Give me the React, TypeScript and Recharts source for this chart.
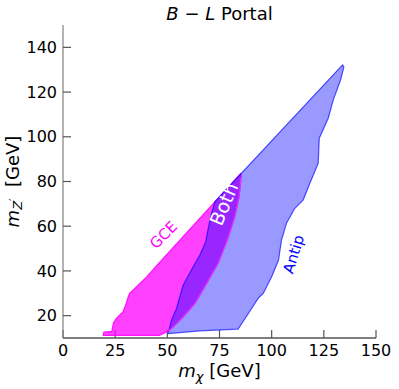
import React from 'react';
import { ComposedChart, Scatter, XAxis, YAxis, ReferenceDot } from 'recharts';

// GCE region outline (m_chi, m_Z')
const gceX = [19.2, 19.6, 23.4, 24.2, 25.8, 28.8, 30.2, 31.0, 32.0, 35.3, 40.0, 45.0, 85.2, 85.3, 84.4, 82.3, 78.7, 74.3, 68.8, 63.2, 57.6, 52.8, 50.4, 46.4];
const gceY = [11.2, 12.6, 13.0, 16.8, 19.0, 21.8, 25.2, 27.7, 30.1, 33.0, 37.2, 42.5, 83.6, 82.0, 73.2, 64.2, 53.8, 43.4, 34.4, 25.5, 19.5, 15.0, 13.0, 11.2];

// Antiproton region outline
const antipX = [50.4, 52.0, 54.4, 57.6, 62.4, 65.6, 68.4, 69.6, 71.2, 72.8, 134.0, 134.6, 133.0, 129.5, 127.1, 122.8, 122.3, 118.3, 115.1, 111.1, 107.1, 104.7, 103.3, 100.0, 96.0, 93.5, 90.4, 83.9, 65.6];
const antipY = [12.0, 18.0, 23.2, 33.7, 41.9, 47.1, 53.0, 59.0, 65.7, 71.0, 132.2, 131.2, 125.4, 116.4, 108.3, 99.3, 88.1, 79.2, 71.7, 68.0, 61.3, 53.8, 44.9, 37.4, 30.0, 27.7, 23.2, 14.0, 13.2];

const xTicks = [0, 25, 50, 75, 100, 125, 150];
const yTicks = [20, 40, 60, 80, 100, 120, 140];

const regionLabels = ['GCE', 'Both', 'Antip'];
const regionLabelX = [48.2, 77.0, 110.6];
const regionLabelY = [56.0, 70.0, 47.5];

const gceData = gceX.map((x, i) => ({ x, y: gceY[i] }));
const antipData = antipX.map((x, i) => ({ x, y: antipY[i] }));
const gceEdgeData = gceData.slice(13, 23);

const FONT = '"DejaVu Sans", sans-serif';

const polygon = (fill: string, fillOpacity: number, stroke: string, strokeOpacity: number, closed: boolean) => (props: any) => {
  const pts = props.points || [];
  if (!pts.length) return <g />;
  const d = pts.map((p: any, i: number) => `${i ? 'L' : 'M'}${p.x},${p.y}`).join('') + (closed ? 'Z' : '');
  return (
    <path
      d={d}
      fill={closed ? fill : 'none'}
      fillOpacity={fillOpacity}
      stroke={stroke}
      strokeOpacity={strokeOpacity}
      strokeWidth={1.2}
      strokeLinejoin="round"
    />
  );
};

const labelStyles = [
  { color: '#ff00ff', size: 15, angle: -45 },
  { color: '#ffffff', size: 19, angle: -67 },
  { color: '#0000ff', size: 15, angle: -73 },
];

const noTick = () => <g />;

export default function App() {
  return (
    <div style={{ position: 'absolute', left: 0, top: 0, width: 399, height: 389, background: '#fff' }}>
      <ComposedChart width={399} height={389} margin={{ top: 25, right: 23, bottom: 21, left: 23 }}>
        <XAxis
          xAxisId={0}
          dataKey="x"
          type="number"
          domain={[0, 150]}
          ticks={xTicks}
          allowDataOverflow
          height={30}
          tickSize={-8}
          tickMargin={15}
          axisLine={{ stroke: '#000', strokeWidth: 1.2 }}
          tickLine={{ stroke: '#555', strokeWidth: 1.2 }}
          tick={{ fontSize: 16, fill: '#000', fontFamily: FONT }}
        />
        <XAxis
          xAxisId="top"
          orientation="top"
          dataKey="x"
          type="number"
          domain={[0, 150]}
          ticks={xTicks}
          allowDataOverflow
          height={0}
          tickSize={-8}
          axisLine={{ stroke: '#808080', strokeWidth: 1.2 }}
          tickLine={{ stroke: '#555', strokeWidth: 1.2 }}
          tick={noTick}
        />
        <YAxis
          yAxisId={0}
          dataKey="y"
          type="number"
          domain={[10, 150]}
          ticks={yTicks}
          allowDataOverflow
          width={40}
          tickSize={-8}
          tickMargin={14}
          axisLine={{ stroke: '#808080', strokeWidth: 1.2 }}
          tickLine={{ stroke: '#555', strokeWidth: 1.2 }}
          tick={{ fontSize: 16, fill: '#000', fontFamily: FONT }}
        />
        <YAxis
          yAxisId="right"
          orientation="right"
          dataKey="y"
          type="number"
          domain={[10, 150]}
          ticks={yTicks}
          allowDataOverflow
          width={0}
          tickSize={-8}
          axisLine={{ stroke: '#808080', strokeWidth: 1.2 }}
          tickLine={{ stroke: '#555', strokeWidth: 1.2 }}
          tick={noTick}
        />
        <Scatter
          data={gceData}
          dataKey="y"
          lineType="joint"
          line={polygon('#ff00ff', 0.75, '#ff00ff', 0.9, true)}
          shape={noTick}
          isAnimationActive={false}
        />
        <Scatter
          data={antipData}
          dataKey="y"
          lineType="joint"
          line={polygon('#0000ff', 0.4, '#0000ff', 0.65, true)}
          shape={noTick}
          isAnimationActive={false}
        />
        <Scatter
          data={gceEdgeData}
          dataKey="y"
          lineType="joint"
          line={polygon('none', 0, '#ff33ff', 0.8, false)}
          shape={noTick}
          isAnimationActive={false}
        />
        {regionLabels.map((t, i) => (
          <ReferenceDot
            key={t}
            x={regionLabelX[i]}
            y={regionLabelY[i]}
            r={0}
            shape={(p: any) => (
              <text
                x={p.cx}
                y={p.cy}
                transform={`rotate(${labelStyles[i].angle} ${p.cx} ${p.cy})`}
                textAnchor="middle"
                dominantBaseline="central"
                fontFamily={FONT}
                fontSize={labelStyles[i].size}
                fill={labelStyles[i].color}
              >
                {t}
              </text>
            )}
          />
        ))}
      </ComposedChart>
      <svg width={399} height={389} style={{ position: 'absolute', left: 0, top: 0, pointerEvents: 'none' }}>
        <text x={219.5} y={20} textAnchor="middle" fontFamily={FONT} fontSize={18} fill="#000">
          <tspan fontStyle="italic">B</tspan>
          <tspan>{' \u2212 '}</tspan>
          <tspan fontStyle="italic">L</tspan>
          <tspan>{' Portal'}</tspan>
        </text>
        <text x={219.5} y={377} textAnchor="middle" fontFamily={FONT} fontSize={18} fill="#000">
          <tspan fontStyle="italic">m</tspan>
          <tspan fontStyle="italic" fontSize={13} dy={4}>χ</tspan>
          <tspan dy={-4}>{' [GeV]'}</tspan>
        </text>
        <text transform="translate(19.3,181.5) rotate(-90)" textAnchor="middle" fontFamily={FONT} fontSize={18} fill="#000">
          <tspan fontStyle="italic">m</tspan>
          <tspan fontStyle="italic" fontSize={13} dy={3}>Z</tspan>
          <tspan fontSize={11} dy={-5}>{'\u2032'}</tspan>
          <tspan dy={2}>{'\u00a0 [GeV]'}</tspan>
        </text>
      </svg>
    </div>
  );
}
